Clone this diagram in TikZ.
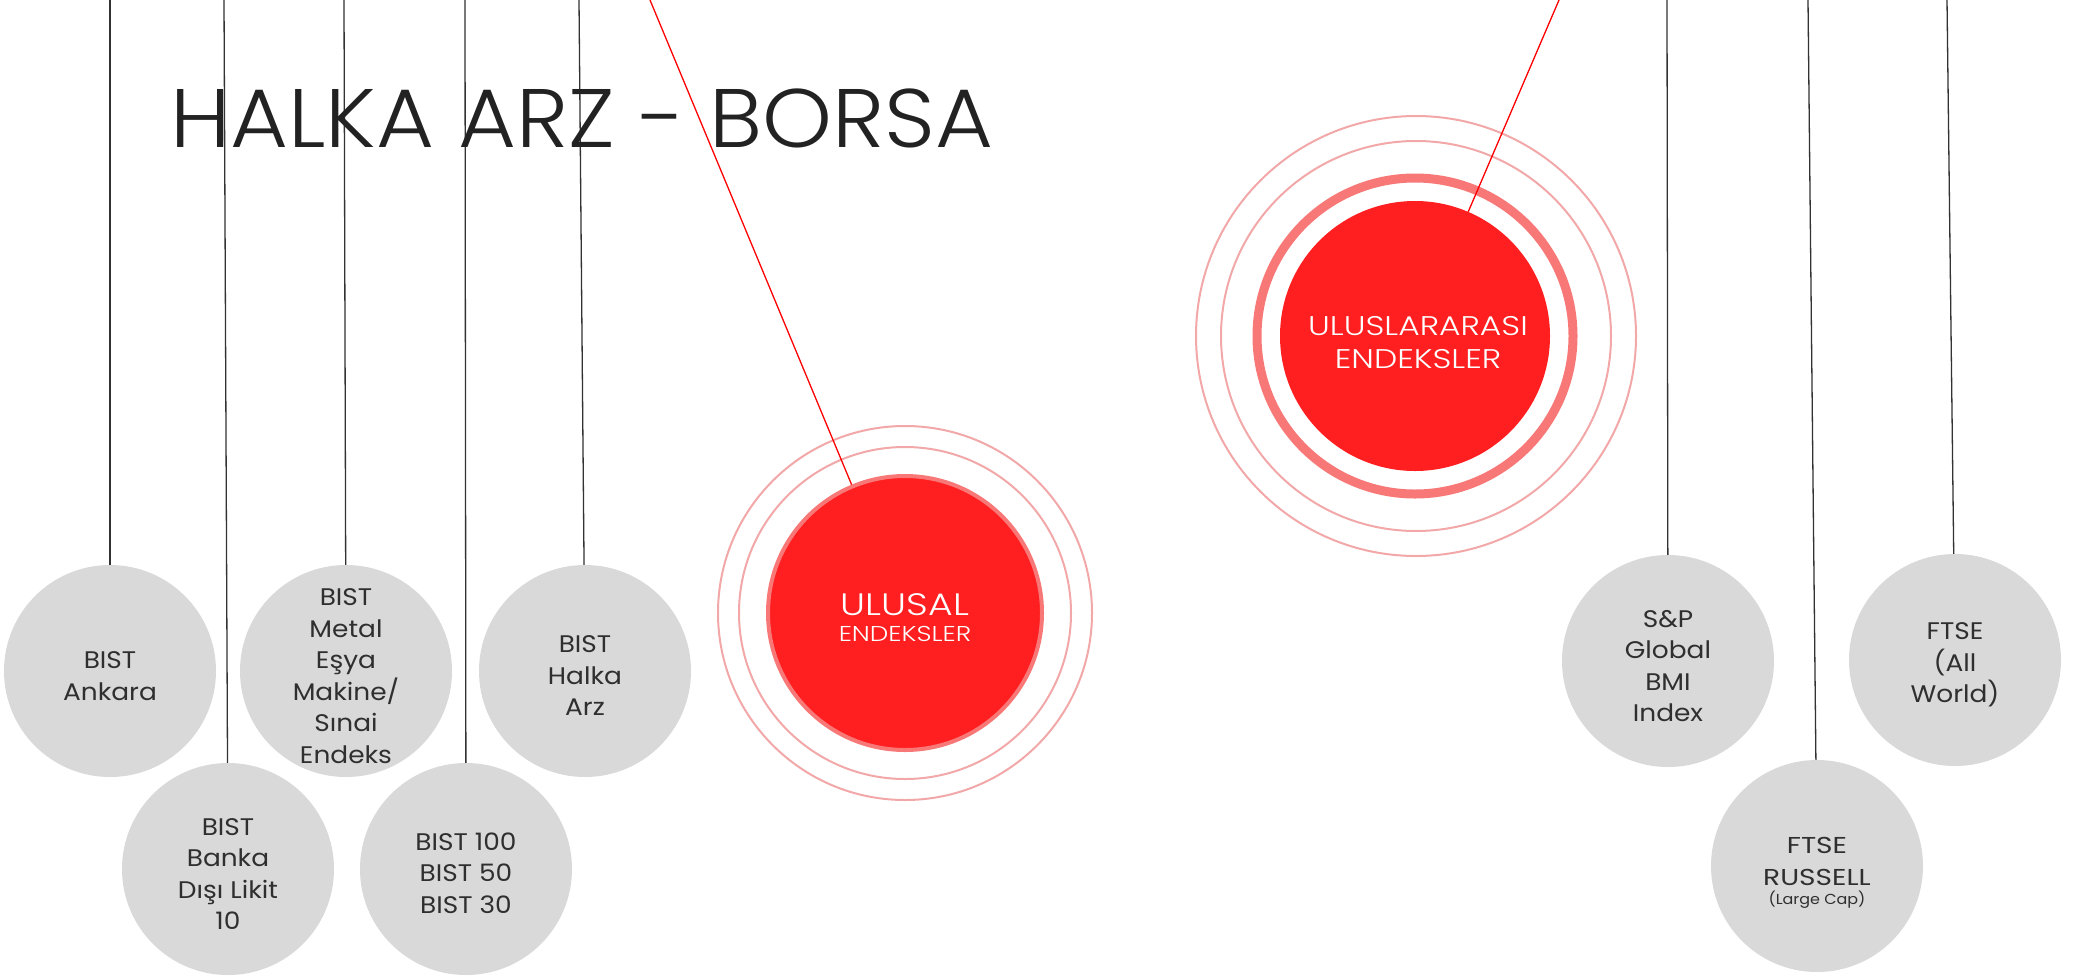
\documentclass[tikz,border=0pt]{standalone}
\usepackage{fontspec}
\setmainfont{Poppins}
\newfontfamily\widefont{Poppins}[FakeStretch=1.1]
\newfontfamily\capsfont{Poppins}[FakeStretch=1.22]
\newfontfamily\lightcaps{Poppins}[UprightFont={* Light}, FakeStretch=1.22]
\newfontfamily\titlefont{Poppins}[UprightFont={* Light}, FakeStretch=1.07]
\definecolor{graycirc}{RGB}{217,217,217}
\definecolor{txtgray}{RGB}{47,47,47}
\definecolor{titlegray}{RGB}{34,34,34}
\definecolor{redfill}{RGB}{255,30,32}
\definecolor{redrim}{RGB}{248,120,120}
\definecolor{ringpink}{RGB}{242,168,168}
\definecolor{hangline}{RGB}{50,50,50}
\tikzset{
  ball/.style={circle, fill=graycirc, minimum size=212pt, inner sep=0pt},
  balltext/.style={align=center, text=txtgray, font=\widefont\fontsize{24}{31.5}\selectfont, inner sep=0pt},
  hang/.style={draw=hangline, line width=1.3pt},
  redhang/.style={draw=red, line width=1.3pt},
  ring/.style={draw=ringpink, line width=2pt},
  whitetext/.style={text=white, anchor=base, inner sep=0pt},
}
\begin{document}
\begin{tikzpicture}[x=1pt,y=-1pt]
\useasboundingbox[fill=white] (0,0) rectangle (2078,978);
% top anchors
\coordinate (tA) at (110,0);
\coordinate (tB) at (224,0);
\coordinate (tM) at (344,0);
\coordinate (tC) at (465,0);
\coordinate (tH) at (579,0);
\coordinate (tS) at (1667,0);
\coordinate (tR) at (1808,0);
\coordinate (tW) at (1947,0);
\coordinate (tU) at (650,0);
\coordinate (tI) at (1559,0);
% gray balls
\node[ball] (ankara) at (110,671) {};
\node[ball] (banka) at (228,869) {};
\node[ball] (metal) at (346,671) {};
\node[ball] (b100) at (466,869) {};
\node[ball] (halka) at (585,671) {};
\node[ball] (sp) at (1668,661) {};
\node[ball] (russell) at (1817,866) {};
\node[ball] (allw) at (1955,660) {};
% hanging lines
\draw[hang] (tA) -- (ankara);
\draw[hang] (tB) -- (banka);
\draw[hang] (tM) -- (metal);
\draw[hang] (tC) -- (b100);
\draw[hang] (tH) -- (halka);
\draw[hang] (tS) -- (sp);
\draw[hang] (tR) -- (russell);
\draw[hang] (tW) -- (allw);
% ball texts
\node[balltext] (tankara) at (110,676) {BIST\\Ankara};
\node[balltext] (tbanka) at (228,874) {BIST\\Banka\\Dışı Likit\\10};
\node[balltext] (tmetal) at (346,676) {BIST\\Metal\\Eşya\\Makine/\\Sınai\\Endeks};
\node[balltext] (tb100) at (466,873) {BIST 100\\BIST 50\\BIST 30};
\node[balltext] (thalka) at (585,676) {BIST\\Halka\\Arz};
\node[balltext] (tsp) at (1668,666) {S\&P\\Global\\BMI\\Index};
\node[balltext] (tallw) at (1955,665) {FTSE\\(All\\World)};
\node[balltext, anchor=base, font=\capsfont\fontsize{23}{30}\selectfont] (trus1) at (1817,853) {FTSE};
\node[balltext, anchor=base, font=\capsfont\fontsize{23}{30}\selectfont] (trus2) at (1817,885) {RUSSELL};
\node[balltext, anchor=base, font=\widefont\fontsize{14.5}{16}\selectfont] (trus3) at (1817,904) {(Large Cap)};
% ULUSAL
\draw[ring] (905,613) circle (187pt);
\draw[ring] (905,613) circle (166pt);
\node[circle, fill=redfill, draw=redrim, line width=4pt, minimum size=274pt, inner sep=0pt] (ulusal) at (905,613) {};
\node[whitetext, font=\lightcaps\fontsize{31}{32}\selectfont] (ul1) at (905,615) {ULUSAL};
\node[whitetext, font=\lightcaps\fontsize{21.5}{23}\selectfont] (ul2) at (905,641) {ENDEKSLER};
\draw[redhang] (tU) -- (ulusal);
% ULUSLARARASI
\draw[ring] (1416,336) circle (220pt);
\draw[ring] (1416,336) circle (195pt);
\draw[draw=redrim, line width=9pt] (1415,336) circle (158pt);
\node[circle, fill=redfill, minimum size=270pt, inner sep=0pt] (ulus) at (1415,336) {};
\node[whitetext, font=\lightcaps\fontsize{27}{29}\selectfont] (us1) at (1418,335) {ULUSLARARASI};
\node[whitetext, font=\lightcaps\fontsize{27}{29}\selectfont] (us2) at (1418,368) {ENDEKSLER};
\draw[redhang] (tI) -- (ulus);
% title
\node[anchor=base west, text=titlegray, font=\titlefont\fontsize{83}{90}\selectfont, inner sep=0pt] (title) at (170,147) {HALKA ARZ - BORSA};
\end{tikzpicture}
\end{document}
